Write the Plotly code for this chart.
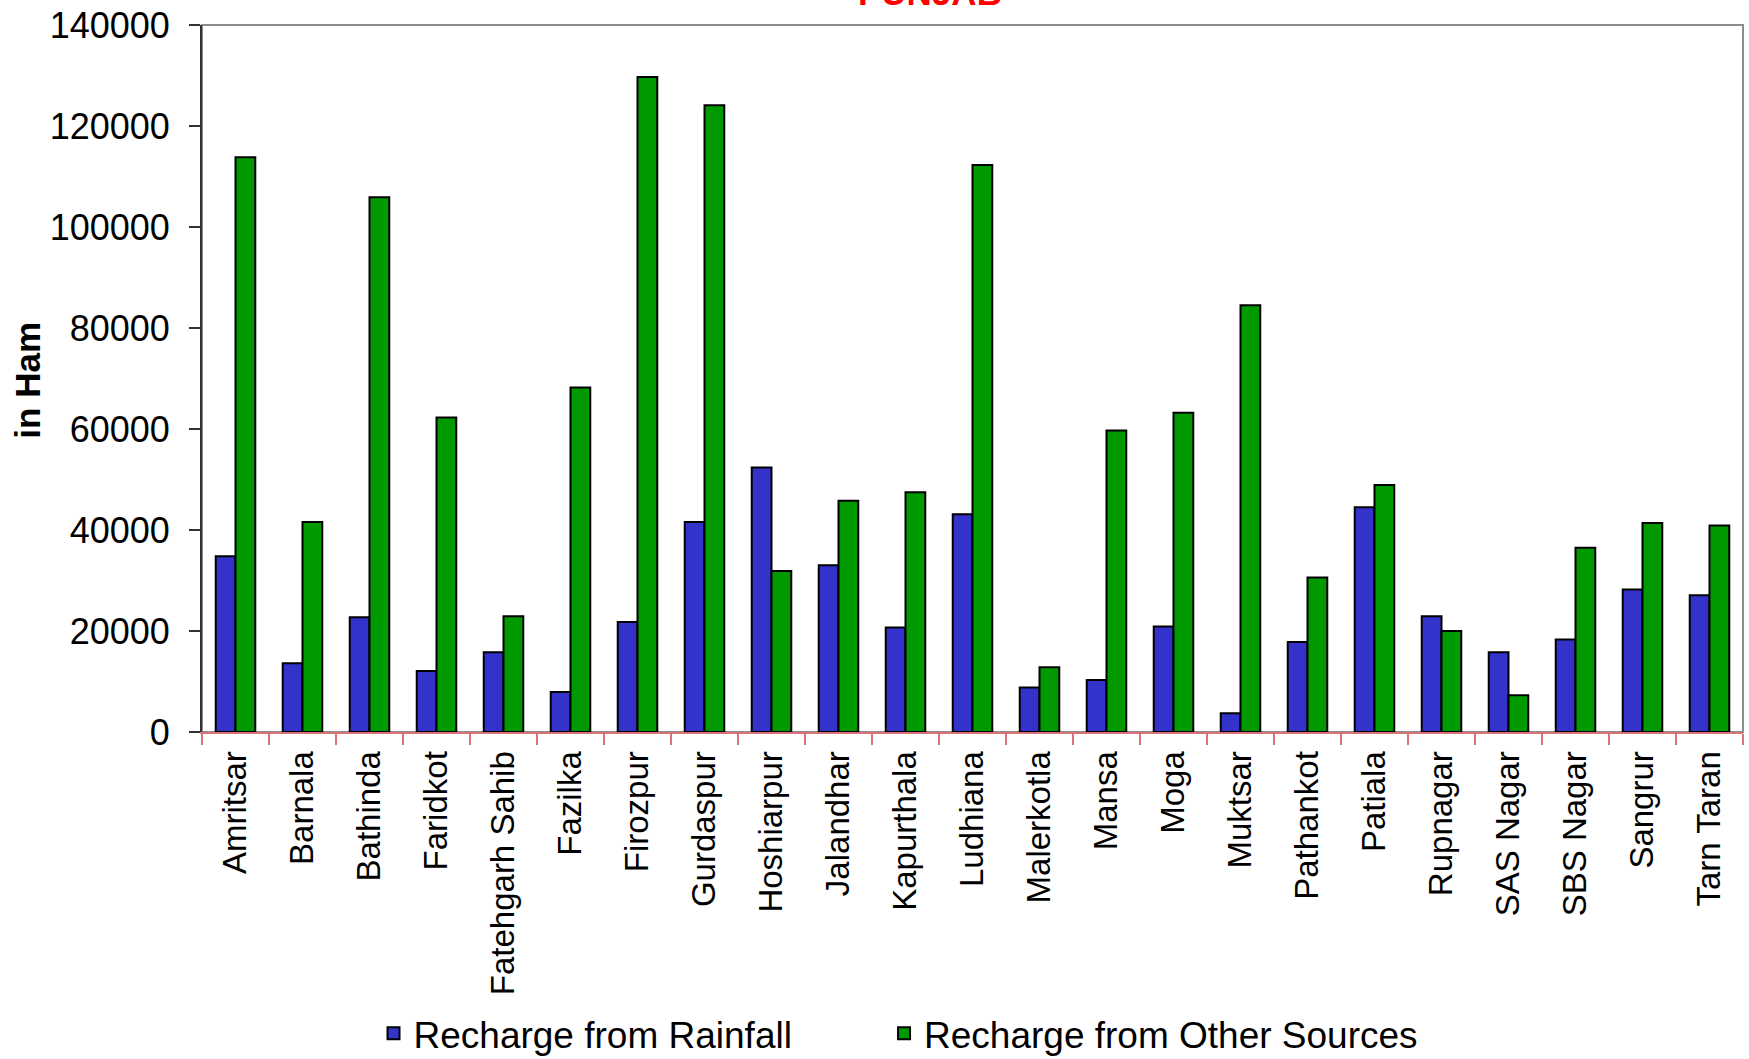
import plotly.graph_objects as go

districts = [
    "Amritsar", "Barnala", "Bathinda", "Faridkot", "Fatehgarh Sahib", "Fazilka",
    "Firozpur", "Gurdaspur", "Hoshiarpur", "Jalandhar", "Kapurthala", "Ludhiana",
    "Malerkotla", "Mansa", "Moga", "Muktsar", "Pathankot", "Patiala", "Rupnagar",
    "SAS Nagar", "SBS Nagar", "Sangrur", "Tarn Taran",
]

# Annual groundwater recharge, in hectare-metres
rainfall_recharge = [
    34800, 13600, 22700, 12100, 15800, 7900, 21800, 41600, 52400, 33000, 20700, 43100,
    8800, 10300, 20900, 3700, 17800, 44500, 22900, 15800, 18300, 28200, 27100,
]
other_recharge = [
    113800, 41600, 105900, 62300, 22900, 68200, 129700, 124100, 31900, 45800, 47500, 112300,
    12800, 59700, 63200, 84500, 30600, 48900, 20000, 7300, 36500, 41400, 40900,
]

y_ticks = [0, 20000, 40000, 60000, 80000, 100000, 120000, 140000]

FONT = "Arial, Liberation Sans, sans-serif"

fig = go.Figure()
fig.add_trace(go.Bar(
    x=districts, y=rainfall_recharge, name="Recharge from Rainfall",
    marker=dict(color="#3333CC", line=dict(color="#000000", width=2)),
    legend="legend",
))
fig.add_trace(go.Bar(
    x=districts, y=other_recharge, name="Recharge from Other Sources",
    marker=dict(color="#009900", line=dict(color="#000000", width=2)),
    legend="legend2",
))

# grey frame around the plot area (top and right edges)
fig.add_shape(type="rect", xref="paper", yref="paper", x0=0, x1=1, y0=0, y1=1,
              line=dict(color="#8c8c8c", width=2), layer="below")

# chart title
fig.add_annotation(
    text="<b>PUNJAB</b>", xref="paper", yref="paper", x=0.4724, y=1.0464,
    xanchor="center", yanchor="middle", showarrow=False,
    font=dict(family=FONT, size=35, color="#FF0000"),
)

# y-axis title
fig.add_annotation(
    text="<b>in Ham</b>", xref="paper", yref="paper", x=-0.1129, y=0.497,
    xanchor="center", yanchor="middle", textangle=-90, showarrow=False,
    font=dict(family=FONT, size=35, color="#000000"),
)

legend_common = dict(
    orientation="h", xref="paper", yref="container",
    y=0.0240, xanchor="left", yanchor="middle",
    font=dict(family=FONT, size=37, color="#000000"),
    bgcolor="rgba(0,0,0,0)",
)

fig.update_layout(
    width=1749, height=1059,
    margin=dict(l=202, r=6, t=24.5, b=327, autoexpand=False),
    paper_bgcolor="white", plot_bgcolor="white",
    barmode="group", bargap=0.41, bargroupgap=0,
    font=dict(family=FONT, size=35, color="#000000"),
    showlegend=True,
    legend=dict(x=0.1113, **legend_common),
    legend2=dict(x=0.4426, **legend_common),
)

fig.update_xaxes(
    type="category", tickangle=-90, tickson="boundaries",
    ticks="outside", ticklen=11, tickwidth=2, tickcolor="#d9737a",
    showline=True, linecolor="#d9737a", linewidth=2,
    showgrid=False, zeroline=False, automargin=False,
    tickfont=dict(family=FONT, size=33, color="#000000"),
    ticklabelstandoff=4,
)
fig.update_yaxes(
    range=[0, 140000], tickvals=y_ticks, ticktext=[str(v) for v in y_ticks],
    ticks="outside", ticklen=11, tickwidth=2, tickcolor="#333333",
    showline=True, linecolor="#333333", linewidth=2,
    showgrid=False, zeroline=False, automargin=False,
    tickfont=dict(family=FONT, size=36, color="#000000"),
    ticklabelstandoff=12,
)

fig.write_html("out.html")
